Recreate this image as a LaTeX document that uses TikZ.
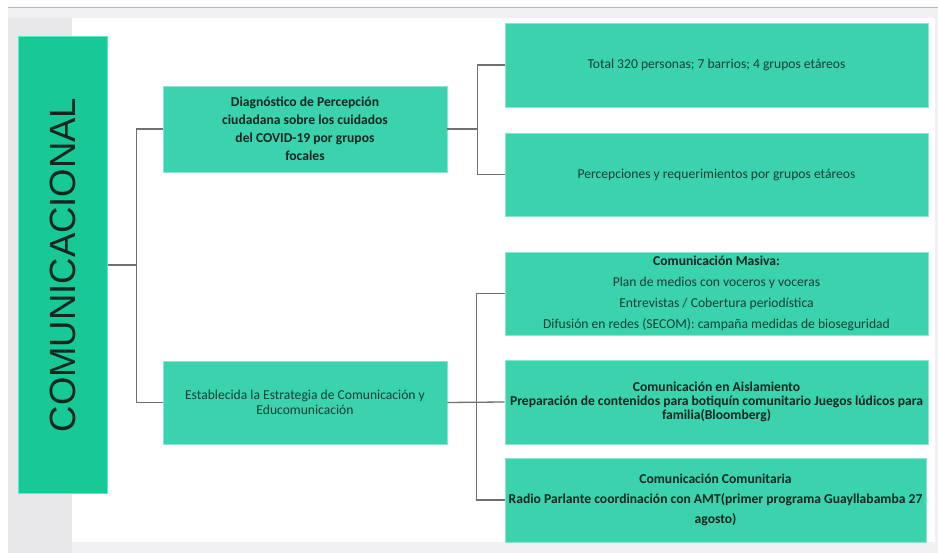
\documentclass[tikz,border=0pt]{standalone}
\usepackage{fontspec}
\setmainfont{Carlito}
\newfontfamily\arialf{Liberation Sans}
\definecolor{boxfill}{HTML}{3AD3AE}
\definecolor{boxedge}{HTML}{8AE6D0}
\definecolor{mainfill}{HTML}{18C896}
\definecolor{mainedge}{HTML}{5FE8C8}
\definecolor{linec}{HTML}{707070}
\definecolor{txtbold}{HTML}{10261F}
\definecolor{txtreg}{HTML}{173F34}
\definecolor{sidegray}{HTML}{E8E8EA}
\definecolor{topline}{HTML}{C9AFAF}
\tikzset{
  box/.style={draw=boxedge, line width=0.8pt, fill=boxfill, align=center, inner sep=1pt},
  conn/.style={draw=linec, line width=1.3pt},
  regtxt/.style={text=txtreg, font=\fontsize{13.6}{16}\selectfont},
}
\begin{document}
\begin{tikzpicture}[x=1pt,y=-1pt]
\useasboundingbox (0,0) rectangle (938,553);
% slide background
\fill[white] (0,0) rectangle (938,553);
\fill[sidegray!60] (8,8) rectangle (938,553);
\fill[sidegray] (8,18) rectangle (72,553);
\fill[white] (72,18) rectangle (935,542);
\draw[topline, line width=1.2pt] (8,7.5) -- (938,7.5);
% main box
\node[draw=mainedge, line width=1pt, fill=mainfill, minimum width=89pt, minimum height=456pt, inner sep=0pt] (L) at (62.5,265) {};
\node[rotate=90, text=txtbold, font=\arialf\fontsize{36.5}{40}\selectfont] (Lt) at (L.center) {COMUNICACIONAL};
% second level
\node[box, minimum width=284pt, minimum height=86pt, text=txtbold, font=\bfseries\fontsize{13.6}{18}\selectfont] (A) at (305,129)
  {Diagnóstico de Percepción\\ciudadana sobre los cuidados\\del COVID-19 por grupos\\focales};
\node[box, regtxt, minimum width=284pt, minimum height=83pt, font=\fontsize{13.6}{15}\selectfont] (B) at (305,402.5)
  {Establecida la Estrategia de Comunicación y\\Educomunicación};
% third level
\node[box, regtxt, minimum width=423pt, minimum height=84pt] (R1) at (716.5,65)
  {Total 320 personas; 7 barrios; 4 grupos etáreos};
\node[box, regtxt, minimum width=423pt, minimum height=83pt] (R2) at (716.5,174.5)
  {Percepciones y requerimientos por grupos etáreos};
\node[box, regtxt, minimum width=423pt, minimum height=83pt, font=\fontsize{13.6}{21}\selectfont] (R3) at (716.5,293.5)
  {{\bfseries\color{txtbold}Comunicación Masiva:}\\Plan de medios con voceros y voceras\\Entrevistas / Cobertura periodística\\Difusión en redes (SECOM): campaña medidas de bioseguridad};
\node[box, minimum width=423pt, minimum height=84pt, text=txtbold, font=\bfseries\fontsize{13.6}{14}\selectfont] (R4) at (716.5,402)
  {Comunicación en Aislamiento\\Preparación de contenidos para botiquín comunitario Juegos lúdicos para\\familia(Bloomberg)};
\node[box, minimum width=421pt, minimum height=84pt, text=txtbold, font=\bfseries\fontsize{13.6}{20}\selectfont] (R5) at (715.5,500)
  {Comunicación Comunitaria\\Radio Parlante coordinación con AMT(primer programa Guayllabamba 27\\agosto)};
% connectors
\coordinate (j1) at (137,265);
\coordinate (j2) at (478,129);
\draw[conn] (L.east) -- (j1);
\draw[conn] (A.west) -- ++(-26,0) |- (B.west);
\draw[conn] (A.east) -- (j2);
\draw[conn] (R1.west) -- ++(-27,0) |- (R2.west);
\draw[conn] (R3.west) -- ++(-28,0) |- (R5.west);
\draw[conn] (B.east) -- (R4.west);
\end{tikzpicture}
\end{document}
